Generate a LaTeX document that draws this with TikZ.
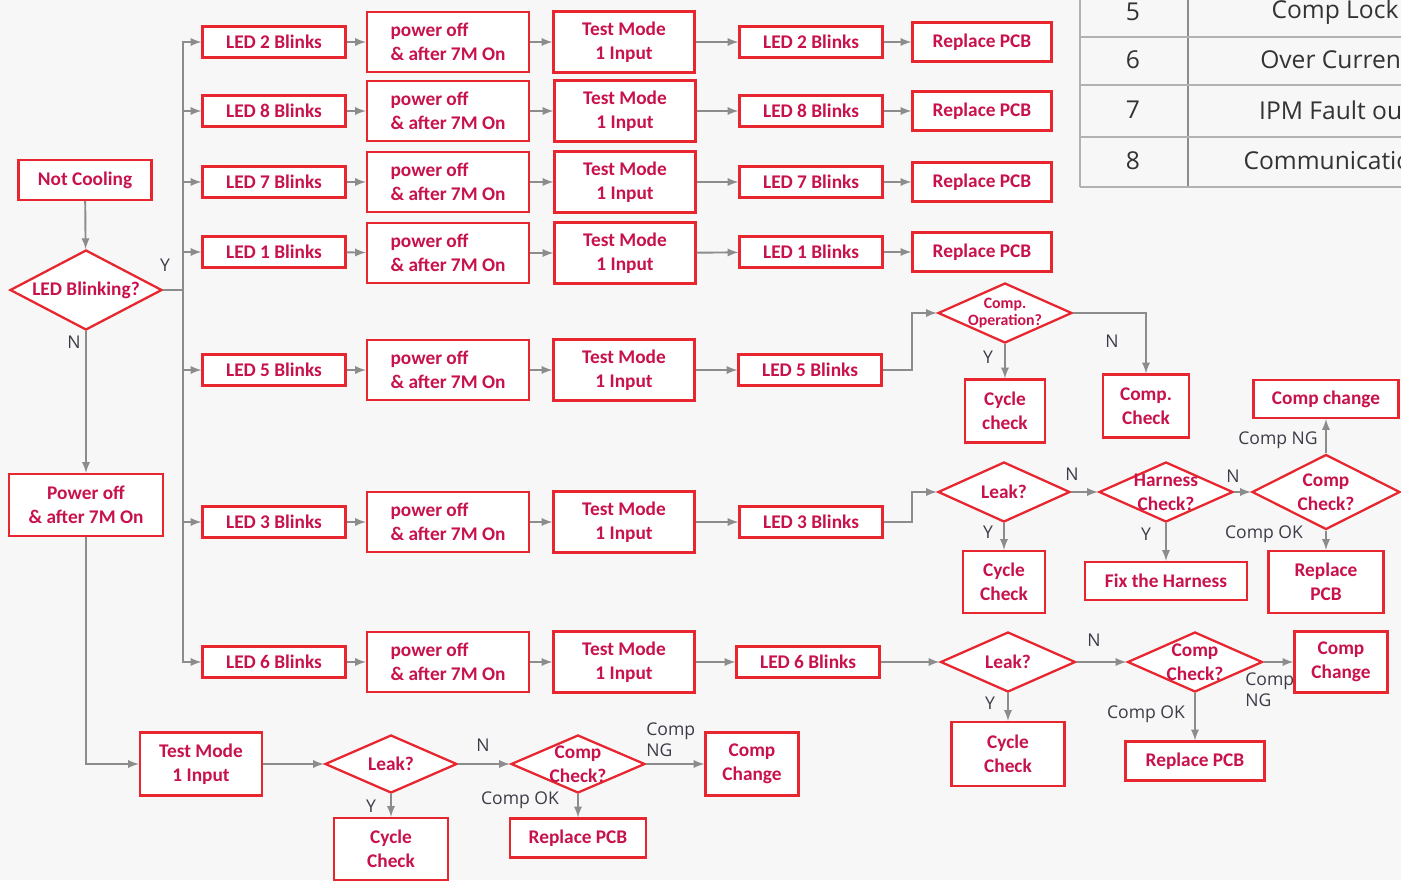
\documentclass[tikz,border=0pt]{standalone}
\usepackage{fontspec}
\setmainfont{Carlito}
\newfontfamily\tablefont{Open Sans}
\usetikzlibrary{arrows,shapes.geometric}
\definecolor{boxred}{HTML}{E8262F}
\definecolor{boxtext}{HTML}{C8124B}
\definecolor{linegray}{HTML}{8C8C8C}
\definecolor{labelgray}{HTML}{3C3C48}
\definecolor{bggray}{HTML}{F7F7F7}
\tikzset{
  wh/.style 2 args={minimum width=#1*0.02cm, minimum height=#2*0.02cm},
  box/.style={draw=boxred, line width=1.3pt, fill=white, text=boxtext,
    align=center, inner sep=0pt, font=\bfseries\fontsize{11}{13.5}\selectfont},
  ledbox/.style={box, wh={143}{31}},
  offbox/.style={box, wh={162}{60}, align=left},
  testbox/.style={box, wh={141}{61}},
  pcbbox/.style={box, wh={139}{39}},
  dtext/.style={text=boxtext, align=center, inner sep=0pt,
    font=\bfseries\fontsize{11}{13.5}\selectfont},
  dshape/.style={diamond, draw=boxred, line width=1.3pt, fill=white, inner sep=0pt},
  dia/.style={dshape, label={[dtext]center:#1}},
  arr/.style={draw=linegray, line width=1.1pt, -latex},
  lbl/.style={text=labelgray, inner sep=0pt, align=left,
    font=\tablefont\fontsize{10}{12}\selectfont},
  tabline/.style={draw=black!30, line width=0.8pt},
  tabtext/.style={text=black!80, font=\tablefont\fontsize{14}{16}\selectfont},
}
\begin{document}
\begin{tikzpicture}[x=0.02cm, y=-0.02cm]
    % Page and background
    \clip (0,0) rectangle (1401,880);
    \fill[bggray] (0,0) rectangle (1401,880);

    % Error code table (top right, cut by the page)
    \draw[tabline] (1080,-20) -- (1080,187);
    \draw[tabline, draw=black!45, line width=1.5pt] (1188,-20) -- (1188,187);
    \draw[tabline] (1080,37) -- (1401,37);
    \draw[tabline] (1080,85) -- (1401,85);
    \draw[tabline] (1080,137) -- (1401,137);
    \draw[tabline] (1080,187) -- (1401,187);
    \node[tabtext] (c5) at (1133,12) {5};
    \node[tabtext] (e5) at (1335,12) {Comp Lock};
    \node[tabtext] (c6) at (1133,60) {6};
    \node[tabtext] (e6) at (1335,60) {Over Current};
    \node[tabtext] (c7) at (1133,110) {7};
    \node[tabtext] (e7) at (1335,110) {IPM Fault out};
    \node[tabtext] (c8) at (1133,161) {8};
    \node[tabtext] (e8) at (1335,161) {Communication};

    % Start of the check
    \node[box, wh={133}{40}] (nc) at (85,180) {Not Cooling};
    \node[dia={LED Blinking?}, wh={152}{80}] (blink) at (86,290) {};
    \node[box, wh={154}{62}] (pw) at (86,505) {Power off\\\& after 7M On};
    \draw[arr] (nc) -- (blink);
    \draw[arr] (blink) -- (pw);
    \node[lbl] at (165,265) {Y};
    \node[lbl] at (74,342) {N};

    % LED 2 row
    \node[ledbox] (L2) at (274,42) {LED 2 Blinks};
    \node[offbox] (P2) at (448,42) {power off\\\& after 7M On};
    \node[testbox] (T2) at (624,42) {Test Mode\\1 Input};
    \node[ledbox] (M2) at (811,42) {LED 2 Blinks};
    \node[pcbbox] (R2) at (982,42) {Replace PCB};
    \draw[arr] (L2) -- (P2);
    \draw[arr] (P2) -- (T2);
    \draw[arr] (T2) -- (M2);
    \draw[arr] (M2) -- (R2);

    % LED 8 row
    \node[ledbox] (L8) at (274,111) {LED 8 Blinks};
    \node[offbox] (P8) at (448,111) {power off\\\& after 7M On};
    \node[testbox] (T8) at (625,111) {Test Mode\\1 Input};
    \node[ledbox] (M8) at (811,111) {LED 8 Blinks};
    \node[pcbbox] (R8) at (982,111) {Replace PCB};
    \draw[arr] (L8) -- (P8);
    \draw[arr] (P8) -- (T8);
    \draw[arr] (T8) -- (M8);
    \draw[arr] (M8) -- (R8);

    % LED 7 row
    \node[ledbox] (L7) at (274,182) {LED 7 Blinks};
    \node[offbox] (P7) at (448,182) {power off\\\& after 7M On};
    \node[testbox] (T7) at (625,182) {Test Mode\\1 Input};
    \node[ledbox] (M7) at (811,182) {LED 7 Blinks};
    \node[pcbbox] (R7) at (982,182) {Replace PCB};
    \draw[arr] (L7) -- (P7);
    \draw[arr] (P7) -- (T7);
    \draw[arr] (T7) -- (M7);
    \draw[arr] (M7) -- (R7);

    % LED 1 row
    \node[ledbox] (L1) at (274,252) {LED 1 Blinks};
    \node[offbox] (P1) at (448,253) {power off\\\& after 7M On};
    \node[testbox] (T1) at (625,253) {Test Mode\\1 Input};
    \node[ledbox] (M1) at (811,252) {LED 1 Blinks};
    \node[pcbbox] (R1) at (982,252) {Replace PCB};
    \draw[arr] (L1) -- (P1);
    \draw[arr] (P1) -- (T1);
    \draw[arr] (T1) -- (M1);
    \draw[arr] (M1) -- (R1);

    % LED 5 row
    \node[ledbox] (L5) at (274,370) {LED 5 Blinks};
    \node[offbox] (P5) at (448,370) {power off\\\& after 7M On};
    \node[testbox] (T5) at (624,370) {Test Mode\\1 Input};
    \node[ledbox] (M5) at (810,370) {LED 5 Blinks};
    \draw[arr] (L5) -- (P5);
    \draw[arr] (P5) -- (T5);
    \draw[arr] (T5) -- (M5);
    \node[dshape, wh={134}{60},
      label={[dtext, font=\bfseries\fontsize{9}{9.5}\selectfont]center:Comp.\\Operation?}] (op5) at (1005,313) {};
    \node[box, wh={80}{63}] (cy5) at (1005,411) {Cycle\\check};
    \node[box, wh={86}{63}] (ck5) at (1146,406) {Comp.\\Check};
    \draw[arr] (M5.east) -- ++(29,0) |- (op5.west);
    \draw[arr] (op5) -- (cy5);
    \draw[arr] (op5.east) -| (ck5.north);
    \node[lbl] at (988,357) {Y};
    \node[lbl] at (1112,341) {N};

    % LED 3 row
    \node[ledbox] (L3) at (274,522) {LED 3 Blinks};
    \node[offbox] (P3) at (448,522) {power off\\\& after 7M On};
    \node[testbox] (T3) at (624,522) {Test Mode\\1 Input};
    \node[ledbox] (M3) at (811,522) {LED 3 Blinks};
    \draw[arr] (L3) -- (P3);
    \draw[arr] (P3) -- (T3);
    \draw[arr] (T3) -- (M3);
    \node[dia={Leak?}, wh={132}{60}] (lk3) at (1004,492) {};
    \node[box, wh={82}{62}] (cy3) at (1004,582) {Cycle\\Check};
    \node[dia={Harness\\Check?}, wh={134}{60}] (hc3) at (1166,492) {};
    \node[box, wh={162}{38}] (fx3) at (1166,581) {Fix the Harness};
    \node[dia={Comp\\Check?}, wh={148}{75}] (cc3) at (1326,492) {};
    \node[box, wh={145}{38}] (ch3) at (1326,399) {Comp change};
    \node[box, wh={115}{62}] (rp3) at (1326,582) {Replace\\PCB};
    \draw[arr] (M3.east) -- ++(28,0) |- (lk3.west);
    \draw[arr] (lk3) -- (cy3);
    \draw[arr] (lk3) -- (hc3);
    \draw[arr] (hc3) -- (fx3);
    \draw[arr] (hc3) -- (cc3);
    \draw[arr] (cc3) -- (ch3);
    \draw[arr] (cc3) -- (rp3);
    \node[lbl] at (988,532) {Y};
    \node[lbl] at (1072,474) {N};
    \node[lbl] at (1146,534) {Y};
    \node[lbl] at (1233,476) {N};
    \node[lbl] at (1278,440) {Comp NG};
    \node[lbl] at (1264,534) {Comp OK};

    % LED 6 row
    \node[ledbox] (L6) at (274,662) {LED 6 Blinks};
    \node[offbox] (P6) at (448,662) {power off\\\& after 7M On};
    \node[testbox] (T6) at (624,662) {Test Mode\\1 Input};
    \node[ledbox] (M6) at (808,662) {LED 6 Blinks};
    \draw[arr] (L6) -- (P6);
    \draw[arr] (P6) -- (T6);
    \draw[arr] (T6) -- (M6);
    \node[dia={Leak?}, wh={135}{60}] (lk6) at (1008,662) {};
    \node[box, wh={113}{64}] (cy6) at (1008,754) {Cycle\\Check};
    \node[dia={Comp\\Check?}, wh={135}{60}] (cc6) at (1195,662) {};
    \node[box, wh={93}{61}] (ch6) at (1341,662) {Comp\\Change};
    \node[pcbbox] (rp6) at (1195,761) {Replace PCB};
    \draw[arr] (M6) -- (lk6);
    \draw[arr] (lk6) -- (cy6);
    \draw[arr] (lk6) -- (cc6);
    \draw[arr] (cc6) -- (ch6);
    \draw[arr] (cc6) -- (rp6);
    \node[lbl] at (1094,640) {N};
    \node[lbl] at (990,703) {Y};
    \node[lbl] at (1146,714) {Comp OK};
    \node[lbl, anchor=west] at (1245,690) {Comp\\NG};

    % Y branch: trunk to every LED row
    \draw[arr] (blink.east) -- ++(20,0) |- (L2.west);
    \draw[arr] (blink.east) -- ++(20,0) |- (L8.west);
    \draw[arr] (blink.east) -- ++(20,0) |- (L7.west);
    \draw[arr] (blink.east) -- ++(20,0) |- (L1.west);
    \draw[arr] (blink.east) -- ++(20,0) |- (L5.west);
    \draw[arr] (blink.east) -- ++(20,0) |- (L3.west);
    \draw[arr] (blink.east) -- ++(20,0) |- (L6.west);

    % N branch: no blinking
    \node[box, wh={122}{63}] (tm0) at (201,764) {Test Mode\\1 Input};
    \node[dia={Leak?}, wh={132}{58}] (lk0) at (391,764) {};
    \node[box, wh={114}{62}] (cy0) at (391,849) {Cycle\\Check};
    \node[dia={Comp\\Check?}, wh={134}{58}] (cc0) at (578,764) {};
    \node[box, wh={93}{63}] (ch0) at (752,764) {Comp\\Change};
    \node[box, wh={136}{39}] (rp0) at (578,838) {Replace PCB};
    \draw[arr] (pw.south) |- (tm0.west);
    \draw[arr] (tm0) -- (lk0);
    \draw[arr] (lk0) -- (cy0);
    \draw[arr] (lk0) -- (cc0);
    \draw[arr] (cc0) -- (ch0);
    \draw[arr] (cc0) -- (rp0);
    \node[lbl] at (483,745) {N};
    \node[lbl] at (371,806) {Y};
    \node[lbl] at (520,800) {Comp OK};
    \node[lbl, anchor=west] at (646,740) {Comp\\NG};
\end{tikzpicture}
\end{document}
